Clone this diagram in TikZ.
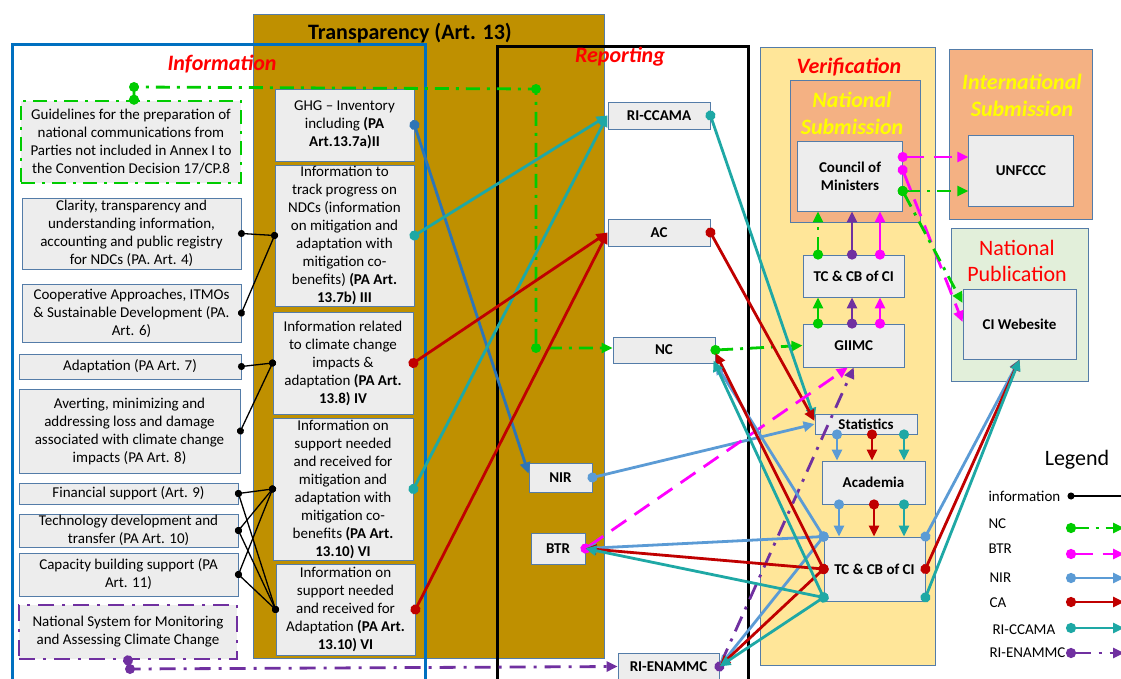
\documentclass[tikz,border=0pt]{standalone}
\usepackage{fontspec}
\setmainfont{Carlito}
\usetikzlibrary{arrows.meta,calc,positioning}

\definecolor{gold}{RGB}{191,144,0}
\definecolor{infoblue}{RGB}{0,112,192}
\definecolor{boxfill}{RGB}{237,237,237}
\definecolor{boxline}{RGB}{84,124,168}
\definecolor{verif}{RGB}{255,230,153}
\definecolor{salmon}{RGB}{244,177,131}
\definecolor{pubgreen}{RGB}{226,239,218}
\definecolor{ncgreen}{RGB}{0,204,0}
\definecolor{btrpink}{RGB}{255,0,255}
\definecolor{nirblue}{RGB}{91,155,213}
\definecolor{ghgblue}{RGB}{46,117,182}
\definecolor{cared}{RGB}{192,0,0}
\definecolor{riteal}{RGB}{30,168,165}
\definecolor{ripurple}{RGB}{112,48,160}
\definecolor{subyellow}{RGB}{255,255,0}

\tikzset{sz/.style 2 args={minimum width=#1pt,minimum height=#2pt}}

\begin{document}
\begin{tikzpicture}[x=1pt,y=-1pt,>={Triangle[length=11pt,width=10pt]},
    box/.style={draw=boxline,fill=boxfill,line width=0.9pt,inner sep=0pt,align=center,
                font=\fontsize{15}{18}\selectfont},
    bbox/.style={box,font=\fontsize{15}{18}\selectfont\bfseries},
    area/.style={draw=boxline,line width=0.7pt},
    head/.style={font=\fontsize{22}{27}\selectfont\bfseries\itshape,align=center},
    link/.style={line width=2.8pt,shorten <=-5pt,{Circle[length=10pt]}->},
    info/.style={black,line width=1.3pt,shorten <=-3.5pt,shorten >=-3.5pt,
                 {Circle[length=7pt]}-{Circle[length=7pt]}},
    legi/.style={black,line width=1.3pt,shorten <=-3.5pt,{Circle[length=7pt]}-},
    ncl/.style={link,ncgreen,dash pattern=on 14pt off 7pt on 3pt off 7pt},
    btrl/.style={link,btrpink,dash pattern=on 18pt off 10pt},
    nirl/.style={link,nirblue},
    cal/.style={link,cared},
    ril/.style={link,riteal},
    enl/.style={link,ripurple,dash pattern=on 16pt off 8pt on 3pt off 8pt},
    legtext/.style={anchor=west,font=\fontsize{15}{18}\selectfont}]

\useasboundingbox (0,0) rectangle (1121,679);
\clip (0,0) rectangle (1121,679);
\fill[white] (0,0) rectangle (1121,679);

% areas
\draw[area,fill=gold] (253,14) rectangle (604,658);
\draw[infoblue,line width=3pt] (12,690) -- (12,45) -- (425,45) -- (425,690);
\draw[black,line width=3pt] (497,690) -- (497,47) -- (748,47) -- (748,690);
\draw[area,fill=verif] (760,47) rectangle (935,665);
\draw[area,fill=salmon] (790,80) rectangle (920,222);
\draw[area,fill=salmon] (949,49) rectangle (1092,219);
\draw[area,fill=pubgreen] (951,228) rectangle (1088,381);

\node[font=\fontsize{22}{27}\selectfont\bfseries] (ttr) at (410,33) {Transparency (Art. 13)};
\node[head,red] (tinfo) at (222,64) {Information};
\node[head,red] (trep) at (620,57) {Reporting};
\node[head,red] (tver) at (849,67) {Verification};
\node[head,subyellow] (tnat) at (852,113.5) {National\\Submission};
\node[head,subyellow] (tint) at (1022,95.5) {International\\Submission};
\node[font=\fontsize{22}{26}\selectfont,red,align=center] (tpub) at (1017,261) {National\\Publication};

% information
\node[box,sz={220}{82},draw=ncgreen,line width=2.6pt,dash pattern=on 14pt off 7pt on 3pt off 7pt]
  (guide) at (131,142) {Guidelines for the preparation of\\national communications from\\Parties not included in Annex I to\\the Convention Decision 17/CP.8};
\node[box,sz={219}{71}] (clar) at (131.5,233.5) {Clarity, transparency and\\understanding information,\\accounting and public registry\\for NDCs (PA. Art. 4)};
\node[box,sz={219}{58}] (coop) at (131.5,313) {Cooperative Approaches, ITMOs\\\& Sustainable Development (PA.\\Art. 6)};
\node[box,sz={222}{25}] (adap) at (130,366.5) {Adaptation (PA Art. 7)};
\node[box,sz={221}{84}] (avert) at (129.5,431) {Averting, minimizing and\\addressing loss and damage\\associated with climate change\\impacts (PA Art. 8)};
\node[box,sz={219}{21}] (fin) at (128.5,493.5) {Financial support (Art. 9)};
\node[box,sz={219}{33}] (tech) at (128.5,530.5) {Technology development and\\transfer (PA Art. 10)};
\node[box,sz={219}{43}] (cap) at (128.5,574.5) {Capacity building support (PA\\Art. 11)};
\node[box,sz={218}{54},draw=ripurple,line width=2.6pt,dash pattern=on 16pt off 8pt on 3pt off 8pt]
  (natsys) at (128,632) {National System for Monitoring\\and Assessing Climate Change};

% transparency
\node[box,sz={139}{72}] (ghg) at (344.5,125) {GHG -- Inventory\\including \textbf{(PA}\\\textbf{Art.13.7a)II}};
\node[box,sz={139}{141}] (trk) at (344.5,235.5) {Information to\\track progress on\\NDCs (information\\on mitigation and\\adaptation with\\mitigation co-\\benefits) \textbf{(PA Art.}\\\textbf{13.7b) III}};
\node[box,sz={140}{102}] (rel) at (343,363) {Information related\\to climate change\\impacts \&\\adaptation \textbf{(PA Art.}\\\textbf{13.8) IV}};
\node[box,sz={140}{142}] (supm) at (343,489) {Information on\\support needed\\and received for\\mitigation and\\adaptation with\\mitigation co-\\benefits \textbf{(PA Art.}\\\textbf{13.10) VI}};
\node[box,sz={139}{91}] (supa) at (345.5,609.5) {Information on\\support needed\\and received for\\Adaptation \textbf{(PA Art.}\\\textbf{13.10) VI}};

% reporting
\node[bbox,sz={102}{27}] (ricc) at (659,115.5) {RI-CCAMA};
\node[bbox,sz={102}{27}] (ac) at (659,232.5) {AC};
\node[bbox,sz={102}{26}] (nc) at (664,350) {NC};
\node[bbox,sz={63}{29}] (nir) at (560.5,477.5) {NIR};
\node[bbox,sz={54}{31}] (btr) at (558,548.5) {BTR};
\node[bbox,sz={101}{27}] (rien) at (668.5,666.5) {RI-ENAMMC};

% verification
\node[bbox,sz={104.5}{70}] (com) at (850,176) {Council of\\Ministers};
\node[bbox,sz={101.5}{42}] (tc1) at (853.75,276) {TC \& CB of CI};
\node[bbox,sz={101.5}{43}] (gi) at (853.75,345.5) {GIIMC};
\node[bbox,sz={102}{20}] (st) at (866,424) {Statistics};
\node[bbox,sz={103}{43}] (aca) at (873.5,482.5) {Academia};
\node[bbox,sz={101}{64}] (tc2) at (874.5,569) {TC \& CB of CI};
\node[bbox,sz={104.5}{71}] (unf) at (1021,170.5) {UNFCCC};
\node[bbox,sz={113}{70}] (web) at (1019.5,324) {CI Webesite};

% information links
\path[info] (clar.east) edge (trk.west)
            (coop.east) edge (trk.west)
            (adap.east) edge (rel.west)
            (avert.east) edge (rel.west)
            (fin.east) edge (supm.west)
                       edge (supa.west)
            (tech.east) edge (supm.west)
                        edge (supa.west)
            (cap.east) edge (supm.west)
                       edge (supa.west);

% NC path
\coordinate (g0) at ($(guide.north)+(3,0)$);
\coordinate (g1) at (134,87);
\coordinate (g2) at (536,89);
\coordinate (g3) at (536,348);
\draw[ncl] (g0) -- (g1) -- (g2) -- (g3) -- (g3 -| nc.west);
\foreach \p in {g1,g2,g3} \fill[ncgreen] (\p) circle (5pt);
\draw[ncl] (nc.east) -- (gi.west);

% RI-ENAMMC path
\coordinate (p1) at (130,669);
\draw[enl] (natsys.south) -- (p1) -- (rien.west);
\fill[ripurple] (p1) circle (5pt);
\draw[enl] (rien.east) -- (gi.south);

% transparency to reporting
\draw[nirl,ghgblue] (ghg.east) -- ([yshift=4pt]nir.west);
\draw[ril] (trk.east) -- (ricc.west);
\draw[ril] (supm.east) -- (ricc.west);
\draw[cal] (rel.east) -- (ac.west);
\draw[cal] (supa.east) -- (ac.west);

% reporting to verification
\draw[ril] (ricc.east) -- ([yshift=5pt]st.west);
\draw[cal] (ac.east) -- ([yshift=3pt]st.west);
\draw[nirl] (nir.east) -- (st.west);
\draw[btrl] (btr.east) -- ([xshift=-6pt]gi.south);

% verification column
\draw[ncl] (818,0 |- gi.north) -- (818,0 |- tc1.south);
\draw[ncl] (818,0 |- tc1.north) -- (818,0 |- com.south);
\foreach \xx/\cc in {852/ripurple,880/btrpink}{
  \draw[link,\cc] (\xx,0 |- gi.north) -- (\xx,0 |- tc1.south);
  \draw[link,\cc] (\xx,0 |- tc1.north) -- (\xx,0 |- com.south);
}
\foreach \xa/\xb/\sty in {837/839/nirl,872/874/cal,904/904/ril}{
  \draw[\sty] (\xa,0 |- st.south) -- (\xa,0 |- aca.north);
  \draw[\sty] (\xb,0 |- aca.south) -- (\xb,0 |- tc2.north);
}

% TC & CB of CI back to reporting
\coordinate (tbl) at ($(tc2.south west)+(0,-4)$);
\coordinate (tbr) at ($(tc2.south east)+(0,-4)$);
\path[nirl] (tc2.north west) edge (btr.east)
                             edge (nc.south east)
                             edge (rien.east);
\path[cal] (tc2.west) edge (btr.east)
                      edge ($(nc.east)+(0,3)$)
                      edge (rien.east);
\path[ril] (tbl) edge (btr.east)
                 edge ($(nc.south east)+(-2,-3)$)
                 edge (rien.east);
\draw[nirl] (tc2.north east) -- (web.south);
\draw[cal] (tc2.east) -- (web.south);
\draw[ril] (tbr) -- (web.south);

% submissions
\draw[btrl] ($(com.east)+(0,-19)$) -- ($(unf.west)+(0,-13.5)$);
\draw[ncl] ($(com.east)+(0,15)$) -- ($(unf.west)+(0,20.5)$);
\draw[btrl] ($(com.east)+(0,-6)$) -- ($(web.west)+(0,-2)$);
\draw[ncl] ($(com.east)+(0,15)$) -- ($(web.west)+(0,-21)$);

% legend
\node[font=\fontsize{22}{27}\selectfont] (tleg) at (1077,460) {Legend};
\foreach \lab/\xl/\yl/\yd/\sty [count=\i] in {information/985/496/496/legi,NC/985/524/528/ncl,
    BTR/985/549/554/btrl,NIR/986/578/578/nirl,CA/986/603/602/cal,RI-CCAMA/989/630/628/ril,
    RI-ENAMMC/986/653/653/enl}{
  \node[legtext] (lt\i) at (\xl,\yl) {\lab};
  \coordinate (la\i) at (1071,\yd);
  \coordinate (lb\i) at (1124,\yd);
  \draw[\sty] (la\i) -- (lb\i);
}
\end{tikzpicture}
\end{document}
